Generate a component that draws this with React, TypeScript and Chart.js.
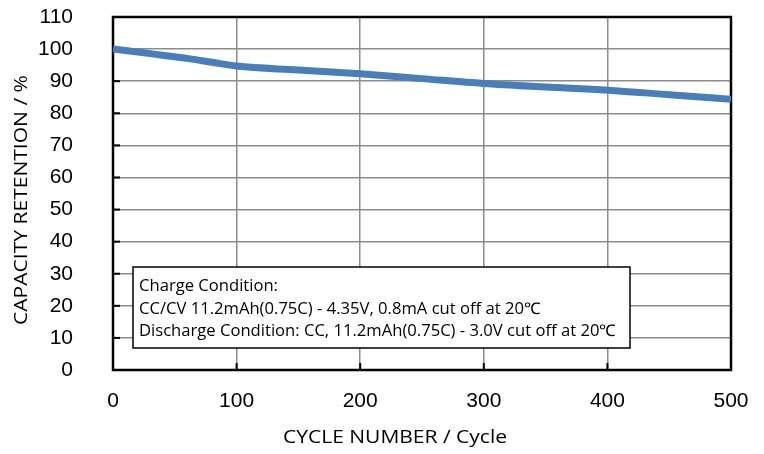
import React, { useEffect, useRef } from "react";
import { Chart, registerables } from "chart.js";

Chart.register(...registerables);

const cycles = [0, 20, 40, 60, 80, 100, 150, 200, 250, 300, 350, 400, 450, 500];
const retention = [100, 99.1, 98.1, 97.1, 95.9, 94.7, 93.5, 92.3, 90.8, 89.3, 88.2, 87.2, 85.8, 84.4];
const xTicks = [0, 100, 200, 300, 400, 500];
const yTicks = [0, 10, 20, 30, 40, 50, 60, 70, 80, 90, 100, 110];
const xTitle = "CYCLE NUMBER / Cycle";
const yTitle = "CAPACITY RETENTION / %";
const noteLines = [
  "Charge Condition:",
  "CC/CV 11.2mAh(0.75C) - 4.35V, 0.8mA cut off at 20\u2103",
  "Discharge Condition: CC, 11.2mAh(0.75C) - 3.0V cut off at 20\u2103",
];

const TITLE_FONT = '"Open Sans", "Liberation Sans", sans-serif';

function fitText(ctx: any, text: string, x: number, y: number, size: number, target: number) {
  ctx.font = `${size}px ${TITLE_FONT}`;
  const w = ctx.measureText(text).width;
  const sx = target / w;
  ctx.save();
  ctx.translate(x, y);
  ctx.scale(sx, 1);
  ctx.fillText(text, 0, 0);
  ctx.restore();
}

const framePlugin = {
  id: "frame",
  beforeDatasetsDraw(chart: any) {
    const { ctx, chartArea: a, scales } = chart;
    ctx.save();
    ctx.strokeStyle = "#000";
    ctx.lineWidth = 2;
    for (const v of yTicks) {
      const y = scales.y.getPixelForValue(v);
      ctx.beginPath();
      ctx.moveTo(a.left, y);
      ctx.lineTo(a.left + 7, y);
      ctx.stroke();
    }
    for (const v of xTicks) {
      const x = scales.x.getPixelForValue(v);
      ctx.beginPath();
      ctx.moveTo(x, a.bottom);
      ctx.lineTo(x, a.bottom - 7);
      ctx.stroke();
    }
    ctx.lineWidth = 2.5;
    ctx.strokeRect(a.left, a.top, a.right - a.left, a.bottom - a.top);
    ctx.restore();
  },
  afterDraw(chart: any) {
    const { ctx, chartArea: a } = chart;
    ctx.save();
    ctx.fillStyle = "#000";
    ctx.textAlign = "center";
    ctx.textBaseline = "middle";
    fitText(ctx, xTitle, 395, 438, 19, 224);
    ctx.translate(22, 200);
    ctx.rotate(-Math.PI / 2);
    fitText(ctx, yTitle, 0, 0, 19, 250);
    ctx.restore();

    ctx.save();
    const bx = a.left + 20;
    const by = 267;
    const bw = 497;
    const bh = 81;
    ctx.fillStyle = "#fff";
    ctx.fillRect(bx, by, bw, bh);
    ctx.strokeStyle = "#000";
    ctx.lineWidth = 1.5;
    ctx.strokeRect(bx, by, bw, bh);
    ctx.fillStyle = "#000";
    ctx.textAlign = "left";
    ctx.textBaseline = "middle";
    ctx.font = `16px ${TITLE_FONT}`;
    const sx = 477 / ctx.measureText(noteLines[2]).width;
    const ys = [286, 309, 331];
    noteLines.forEach((t, i) => {
      ctx.save();
      ctx.translate(bx + 6, ys[i]);
      ctx.scale(sx, 1);
      ctx.fillText(t, 0, 0);
      ctx.restore();
    });
    ctx.restore();
  },
};

export default function App() {
  const ref = useRef<HTMLCanvasElement>(null);
  useEffect(() => {
    document.body.style.margin = "0";
    const chart = new Chart(ref.current!, {
      type: "line",
      data: {
        datasets: [
          {
            data: cycles.map((c, i) => ({ x: c, y: retention[i] })),
            borderColor: "#4a7ebb",
            borderWidth: 7,
            pointRadius: 0,
            cubicInterpolationMode: "monotone",
            clip: false as any,
            fill: false,
          },
        ],
      },
      options: {
        responsive: false,
        animation: false,
        layout: { padding: { top: 17, right: 33, left: 0, bottom: 0 } },
        plugins: { legend: { display: false }, tooltip: { enabled: false } },
        scales: {
          x: {
            type: "linear",
            min: 0,
            max: 500,
            afterBuildTicks: (s: any) => {
              s.ticks = xTicks.map((v) => ({ value: v }));
            },
            afterFit: (s: any) => {
              s.height = 84;
              s.paddingLeft = 0;
              s.paddingRight = 0;
              s.paddingTop = 0;
              s.paddingBottom = 0;
            },
            grid: { color: "#8c8c8c", lineWidth: 1.5, drawTicks: false },
            border: { display: false },
            ticks: {
              padding: 19,
              color: "#000",
              font: { family: '"Liberation Sans", Arial, sans-serif', size: 21 },
            },
          },
          y: {
            type: "linear",
            min: 0,
            max: 110,
            afterBuildTicks: (s: any) => {
              s.ticks = yTicks.map((v) => ({ value: v }));
            },
            afterFit: (s: any) => {
              s.width = 113;
              s.paddingLeft = 0;
              s.paddingRight = 0;
              s.paddingTop = 0;
              s.paddingBottom = 0;
            },
            grid: { color: "#8c8c8c", lineWidth: 1.5, drawTicks: false },
            border: { display: false },
            ticks: {
              padding: 40,
              color: "#000",
              font: { family: '"Liberation Sans", Arial, sans-serif', size: 21 },
            },
          },
        },
      },
      plugins: [framePlugin],
    });
    return () => chart.destroy();
  }, []);
  return <canvas ref={ref} width={764} height={454} style={{ display: "block" }} />;
}
